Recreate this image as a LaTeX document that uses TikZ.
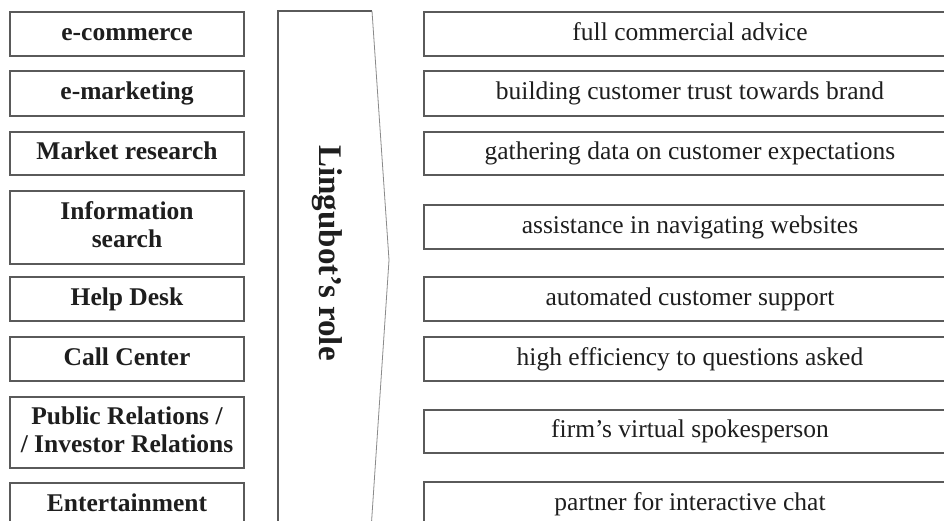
\documentclass[tikz,border=0pt]{standalone}
\usepackage{fontspec}
\setmainfont{Liberation Serif}
\definecolor{boxgray}{HTML}{5A5A5A}
\definecolor{edgegray}{HTML}{8A8A8A}
\definecolor{txt}{HTML}{1E1E1E}
\begin{document}
\begin{tikzpicture}[x=1pt,y=-1pt,
  lbox/.style={draw=boxgray, line width=1.3pt, minimum width=234pt, inner sep=0pt,
    font=\fontsize{25.5}{28}\selectfont\bfseries, text=txt, align=center,
    text height=18pt, text depth=5.6pt},
  twoline/.style={text height=46pt, text depth=5.6pt},
  rbox/.style={draw=boxgray, line width=1.3pt, minimum width=532pt, minimum height=44pt, inner sep=0pt,
    font=\fontsize{25.5}{28}\selectfont, text=txt,
    text height=18pt, text depth=5.6pt},
  rolefont/.style={font=\fontsize{33}{36}\selectfont\bfseries, text=txt}
]
\useasboundingbox (0,0) rectangle (944,520);
\clip (0,0) rectangle (944,520);
\fill[white] (0,0) rectangle (944,520);

% left boxes
\node[lbox, minimum height=44pt] (l1) at (127,34) {e-commerce};
\node[lbox, minimum height=45pt] (l2) at (127,93.5) {e-marketing};
\node[lbox, minimum height=43pt] (l3) at (127,153.5) {Market research};
\node[lbox, twoline, minimum height=73pt] (l4) at (127,227.5) {Information\\search};
\node[lbox, minimum height=44pt] (l5) at (127,299) {Help Desk};
\node[lbox, minimum height=44pt] (l6) at (127,359) {Call Center};
\node[lbox, twoline, minimum height=71pt] (l7) at (127,432.5) {Public Relations /\\/ Investor Relations};
\node[lbox, minimum height=44pt] (l8) at (127,505) {Entertainment};

% central arrow shape
\coordinate (ca) at (278,530);
\coordinate (cb) at (278,11);
\coordinate (cc) at (372,11);
\coordinate (cd) at (389,260);
\coordinate (ce) at (371,530);
\draw[boxgray, line width=1.3pt] (ca) -- (cb) -- (cc);
\draw[edgegray, line width=0.8pt] (cc) -- (cd) -- (ce);
\node[rolefont, rotate=-90] (role) at (327,253) {Lingubot’s role};

% right boxes
\node[rbox] (r1) at (690,34) {full commercial advice};
\node[rbox, minimum height=45pt] (r2) at (690,93.5) {building customer trust towards brand};
\node[rbox, minimum height=43pt] (r3) at (690,153.5) {gathering data on customer expectations};
\node[rbox] (r4) at (690,227) {assistance in navigating websites};
\node[rbox] (r5) at (690,299) {automated customer support};
\node[rbox] (r6) at (690,359) {high efficiency to questions asked};
\node[rbox, minimum height=43pt] (r7) at (690,431.5) {firm’s virtual spokesperson};
\node[rbox] (r8) at (690,504) {partner for interactive chat};
\end{tikzpicture}
\end{document}
